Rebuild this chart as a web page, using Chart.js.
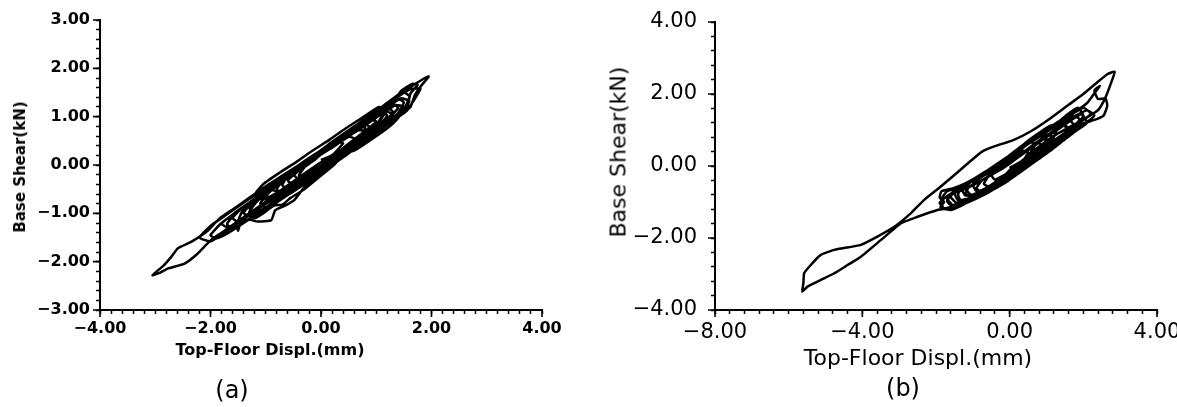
<!DOCTYPE html>
<html>
<head>
<meta charset="utf-8">
<script src="https://cdn.jsdelivr.net/npm/chart.js@4.4.1/dist/chart.umd.min.js"></script>
<style>
  body { margin: 0; background: #fff; }
  #wrap { position: relative; width: 1177px; height: 407px; overflow: hidden; background: #fff; }
  canvas { position: absolute; top: 0; }
  .lbl { position: absolute; color: #000; white-space: nowrap; font-family: "DejaVu Sans", sans-serif; transform: translate(-50%, -50%); }
  .rot { transform: translate(-50%, -50%) rotate(-90deg); }
</style>
</head>
<body>
<div id="wrap">
  <canvas id="chartA" width="575" height="345" style="left:0px"></canvas>
  <canvas id="chartB" width="587" height="345" style="left:590px"></canvas>

  <div class="lbl rot" style="left:20px; top:167px; font-size:15px; font-weight:bold;">Base Shear(kN)</div>
  <div class="lbl" style="left:270px; top:349px; font-size:16px; font-weight:bold;">Top-Floor Displ.(mm)</div>
  <div class="lbl" style="left:232px; top:390px; font-size:24px;">(a)</div>

  <div class="lbl rot" style="left:618px; top:152px; font-size:22px;">Base Shear(kN)</div>
  <div class="lbl" style="left:918px; top:357px; font-size:22px;">Top-Floor Displ.(mm)</div>
  <div class="lbl" style="left:903px; top:388px; font-size:24px;">(b)</div>
</div>

<script>
// (a) top-floor displacement (mm) and base shear (kN), traced loop by loop
const dispA = [
  0.00,
  0.20, 0.40, 0.30, 0.10, -0.10, -0.30, -0.40, -0.30, -0.10, 0.10,
  0.30, 0.50, 0.70, 0.80, 0.70, 0.50, 0.20, -0.10, -0.40, -0.60, -0.70, -0.60, -0.40, -0.20, 0.00, 0.20,
  0.40, 0.60, 0.80, 1.00, 1.10, 1.00, 0.80, 0.50, 0.20, -0.10, -0.40, -0.70, -0.90, -1.00, -0.90, -0.70, -0.50, -0.30, 0.00, 0.20,
  0.40, 0.70, 1.00, 1.20, 1.40, 1.50, 1.40, 1.20, 0.90, 0.60, 0.30, 0.00, -0.30, -0.60, -0.90, -1.20, -1.40, -1.52, -1.50, -1.45,
  -1.30, -1.15, -0.90, -0.83, -0.65, -0.48, -0.30, -0.06, 0.20, 0.50,
  0.80, 1.10, 1.30, 1.50, 1.62, 1.70, 1.80, 1.95, 1.85, 1.60, 1.40, 1.10, 0.80, 0.50, 0.20, -0.10, -0.40, -0.70, -1.00, -1.30,
  -1.60, -1.85, -2.05, -2.35, -2.59, -2.71, -2.85, -3.05, -2.90, -2.77, -2.47, -2.23, -1.99, -1.80, -1.55, -1.30, -1.00, -0.70, -0.40, -0.10,
  0.20,
  0.50, 0.80, 1.10, 1.30, 1.20, 0.90, 0.60, 0.30, 0.00, -0.30, -0.60, -0.90, -1.20, -1.50, -1.80, -2.00, -1.90, -1.70, -1.40, -1.10,
  -0.80, -0.50, -0.20, 0.10,
  0.40, 0.70, 1.00, 1.30, 1.50, 1.60, 1.50, 1.30, 1.00, 0.70, 0.40, 0.10, -0.20, -0.50, -0.80, -1.10, -1.30, -1.20, -1.00, -0.70,
  -0.40, -0.10, 0.20,
  0.50, 0.70, 0.90, 0.80, 0.50, 0.20, -0.10, -0.40, -0.70, -0.95, -1.10, -1.00, -0.80, -0.50, -0.20, 0.10,
  0.40, 0.70, 1.00, 1.20, 1.10, 0.80, 0.50, 0.20, -0.10, -0.40, -0.65, -0.80, -0.70, -0.50, -0.20, 0.10,
  0.50, 0.90, 1.20, 1.40, 1.56, 1.62, 1.75, 1.65, 1.44, 1.31, 1.10, 0.80, 0.50, 0.20, -0.10, -0.40, -0.70, -1.00, -1.30, -1.55,
  -1.70, -1.60, -1.40, -1.10, -0.80, -0.50, -0.20, 0.10,
  0.40, 0.70, 1.00, 0.90, 0.60, 0.30, 0.00, -0.30, -0.60, -0.90, -1.15, -1.30, -1.20, -1.05, -0.85, -0.70, -0.55, -0.30, 0.00, 0.25,
  0.45, 0.60, 0.50, 0.20, -0.10, -0.40, -0.60, -0.50, -0.20, 0.05,
  0.40, 0.80, 1.10, 1.40, 1.30, 1.00, 0.70, 0.40, 0.10, -0.20, -0.50, -0.40, -0.10, 0.10,
  0.40, 0.80, 1.05, 1.20, 1.05, 0.75, 0.45, 0.15, -0.15, -0.45, -0.75, -1.05, -1.20, -1.05, -0.75, -0.45, -0.15, 0.15,
  0.60, 0.90, 1.20, 1.40, 1.50, 1.35, 1.00, 0.70, 0.40, 0.10, -0.20, -0.50, -0.80, -1.10, -1.40, -1.60, -1.45, -1.20, -0.90, -0.60,
  -0.30, 0.00, 0.30,
  0.70, 1.00, 1.30, 1.55, 1.80, 1.60, 1.30, 1.00, 0.70, 0.40, 0.10, -0.20, -0.50, -0.80, -1.10, -1.40, -1.70, -2.00, -2.20, -2.00,
  -1.70, -1.40, -1.10, -0.80, -0.50, -0.20, 0.10,
  0.30, 0.60, 0.80, 0.60, 0.30, 0.00, -0.30, -0.60, -0.90, -0.70, -0.40, -0.10, 0.15,
  0.50, 0.80, 1.10, 1.30, 1.15, 0.85, 0.55, 0.25, -0.05, -0.35, -0.65, -0.95, -1.25, -1.40, -1.25, -0.95, -0.65, -0.35, -0.05, 0.25,
  0.55, 0.85, 1.15, 1.40, 1.60, 1.45, 1.15, 0.85, 0.55, 0.25, -0.05, -0.35, -0.65, -0.95, -1.25, -1.55, -1.80, -1.65, -1.35, -1.05,
  -0.75, -0.45, -0.15, 0.15,
  0.45, 0.75, 1.00, 0.85, 0.55, 0.25, -0.05, -0.35, -0.65, -1.00, -0.85, -0.55, -0.25, 0.05
];
const shearA = [
  0.10,
  0.20, 0.45, 0.47, 0.32, 0.12, -0.05, -0.22, -0.26, -0.10, 0.06,
  0.22, 0.38, 0.56, 0.78, 0.80, 0.68, 0.45, 0.20, -0.05, -0.22, -0.42, -0.50, -0.38, -0.22, -0.06, 0.10,
  0.26, 0.44, 0.62, 0.82, 1.02, 1.06, 0.95, 0.72, 0.48, 0.22, -0.02, -0.28, -0.45, -0.68, -0.78, -0.65, -0.50, -0.36, -0.12, 0.04,
  0.20, 0.44, 0.68, 0.88, 1.08, 1.30, 1.36, 1.24, 1.00, 0.76, 0.50, 0.28, 0.02, -0.22, -0.46, -0.70, -0.90, -1.22, -1.36, -1.18,
  -1.13, -1.17, -1.14, -0.94, -0.84, -0.72, -0.46, -0.24, 0.00, 0.24,
  0.50, 0.74, 0.92, 1.10, 1.20, 1.45, 1.62, 1.83, 1.78, 1.60, 1.46, 1.20, 0.95, 0.72, 0.46, 0.22, 0.00, -0.22, -0.44, -0.68,
  -0.92, -1.12, -1.36, -1.59, -1.72, -1.90, -2.08, -2.28, -2.22, -2.14, -2.04, -1.83, -1.55, -1.40, -1.20, -1.00, -0.76, -0.54, -0.32, -0.10,
  0.10,
  0.30, 0.55, 0.80, 1.10, 1.18, 0.98, 0.74, 0.50, 0.26, 0.02, -0.22, -0.46, -0.70, -0.95, -1.20, -1.45, -1.52, -1.42, -1.20, -0.96,
  -0.72, -0.50, -0.26, -0.02,
  0.22, 0.46, 0.70, 0.95, 1.15, 1.42, 1.50, 1.36, 1.12, 0.88, 0.62, 0.38, 0.12, -0.12, -0.38, -0.62, -0.88, -0.98, -0.88, -0.66,
  -0.44, -0.20, 0.04,
  0.34, 0.52, 0.76, 0.84, 0.62, 0.38, 0.14, -0.10, -0.34, -0.58, -0.80, -0.88, -0.76, -0.52, -0.28, -0.04,
  0.26, 0.50, 0.78, 1.02, 1.10, 0.90, 0.66, 0.42, 0.18, -0.06, -0.28, -0.50, -0.58, -0.46, -0.22, 0.00,
  0.28, 0.62, 0.86, 1.02, 1.20, 1.48, 1.66, 1.68, 1.52, 1.30, 1.16, 0.92, 0.68, 0.44, 0.20, -0.04, -0.28, -0.52, -0.78, -1.00,
  -1.22, -1.32, -1.20, -0.98, -0.76, -0.54, -0.30, -0.06,
  0.24, 0.50, 0.88, 0.96, 0.74, 0.50, 0.24, 0.00, -0.24, -0.50, -0.74, -0.98, -1.10, -1.00, -0.84, -0.82, -0.68, -0.50, -0.22, 0.02,
  0.30, 0.55, 0.58, 0.36, 0.14, -0.12, -0.32, -0.40, -0.20, 0.02,
  0.22, 0.56, 0.84, 1.18, 1.26, 1.04, 0.80, 0.56, 0.32, 0.08, -0.18, -0.30, -0.10, 0.08,
  0.34, 0.68, 0.90, 1.16, 1.20, 0.98, 0.76, 0.52, 0.30, 0.06, -0.16, -0.40, -0.62, -0.72, -0.54, -0.30, -0.06, 0.16,
  0.30, 0.52, 0.76, 0.98, 1.20, 1.24, 0.98, 0.74, 0.52, 0.30, 0.08, -0.16, -0.40, -0.64, -0.86, -1.10, -1.20, -1.05, -0.85, -0.62,
  -0.40, -0.15, 0.08,
  0.46, 0.68, 0.92, 1.12, 1.58, 1.56, 1.34, 1.10, 0.86, 0.62, 0.38, 0.16, -0.08, -0.30, -0.54, -0.78, -1.02, -1.26, -1.50, -1.58,
  -1.36, -1.12, -0.88, -0.66, -0.42, -0.20, 0.02,
  0.18, 0.40, 0.70, 0.72, 0.50, 0.28, 0.04, -0.20, -0.50, -0.56, -0.36, -0.14, 0.08,
  0.36, 0.58, 0.82, 1.04, 1.12, 0.90, 0.66, 0.42, 0.18, -0.06, -0.30, -0.54, -0.78, -1.00, -1.06, -0.84, -0.62, -0.40, -0.18, 0.04,
  0.36, 0.62, 0.86, 1.06, 1.32, 1.38, 1.16, 0.94, 0.70, 0.46, 0.22, -0.02, -0.26, -0.50, -0.74, -0.98, -1.22, -1.30, -1.08, -0.84,
  -0.60, -0.36, -0.12, 0.10,
  0.40, 0.66, 0.90, 0.94, 0.70, 0.46, 0.22, -0.02, -0.28, -0.62, -0.70, -0.48, -0.24, 0.02
];

// (b) top-floor displacement (mm) and base shear (kN)
const dispB = [
  0.00,
  0.30, 0.55, 0.70, 0.55, 0.30, 0.00, -0.30, -0.55, -0.70, -0.55, -0.30, 0.00, 0.25,
  0.60, 0.95, 1.20, 1.30, 1.10, 0.80, 0.45, 0.10, -0.25, -0.60, -1.00, -1.30, -1.20, -0.90, -0.55, -0.20, 0.15,
  0.60, 1.00, 1.40, 1.80, 2.00, 1.85, 1.55, 1.20, 0.80, 0.40, 0.00, -0.40, -0.80, -1.20, -1.55, -1.85, -1.90, -1.78, -1.88, -1.60,
  -1.35, -1.00, -0.60, -0.20, 0.20,
  0.60, 1.00, 1.35, 1.60, 1.40, 1.00, 0.60, 0.20, -0.20, -0.60, -1.00, -1.40, -1.60, -1.45, -1.15, -0.80, -0.40, 0.00,
  0.50, 0.90, 1.30, 1.70, 2.10, 2.40, 2.60, 2.75, 2.85, 2.65, 2.35, 2.00, 1.60, 1.10, 0.60, 0.10, -0.40, -0.75, -1.14, -1.50,
  -1.87, -2.32, -2.68, -3.13, -3.59, -4.04, -4.76, -5.13, -5.40, -5.58, -5.60, -5.63, -5.49, -5.10, -4.76, -4.40, -4.04, -3.50, -2.95, -2.50,
  -1.96, -1.60, -1.25, -0.90, -0.50, -0.10, 0.30,
  0.70, 1.10, 1.50, 1.90, 2.30, 2.55, 2.65, 2.60, 2.40, 2.30, 2.45, 2.30, 2.10, 1.80, 1.40, 1.00, 0.60, 0.20, -0.20, -0.60,
  -1.00, -1.20, -1.05, -0.70, -0.30, 0.10,
  0.50, 0.90, 1.30, 1.70, 1.90, 1.70, 1.30, 0.90, 0.50, 0.10, -0.30, -0.70, -1.10, -1.50, -1.70, -1.55, -1.20, -0.85, -0.45, -0.05, 0.30,
  0.60, 0.90, 1.00, 0.80, 0.45, 0.10, -0.30, -0.70, -1.00, -0.90, -0.60, -0.25, 0.10,
  0.50, 1.00, 1.50, 1.90, 2.20, 2.00, 1.60, 1.20, 0.80, 0.40, 0.00, -0.40, -0.80, -1.20, -1.50, -1.40, -1.05, -0.65, -0.25, 0.10,
  0.35, 0.50, 0.35, 0.05, -0.25, -0.50, -0.40, -0.10, 0.10,
  0.30, 0.60, 0.90, 1.20, 1.50, 1.80, 1.60, 1.30, 1.00, 0.70, 0.40, 0.10, -0.20, -0.50, -0.80, -1.10, -1.40, -1.70, -1.85, -1.80,
  -1.50, -1.20, -0.90, -0.60, -0.30, 0.00,
  0.20, 0.60, 1.00, 1.40, 1.80, 2.10, 2.30, 2.10, 1.80, 1.40, 1.00, 0.60, 0.20, -0.20, -0.60, -1.00, -1.30, -1.40, -1.30, -1.00,
  -0.60, -0.20,
  0.10, 0.40, 0.70, 1.00, 1.20, 1.00, 0.70, 0.40, 0.10, -0.20, -0.50, -0.80, -1.10, -1.20, -1.10, -0.80, -0.50, -0.20, 0.10,
  0.40, 0.70, 1.00, 1.30, 1.60, 1.45, 1.15, 0.85, 0.55, 0.25, -0.05, -0.35, -0.65, -0.95, -1.25, -1.55, -1.70, -1.55, -1.25, -0.95,
  -0.65, -0.35, -0.05, 0.25,
  0.55, 0.85, 1.15, 1.45, 1.75, 2.10, 1.95, 1.65, 1.35, 1.05, 0.75, 0.45, 0.15, -0.15, -0.45, -0.75, -1.05, -1.35, -1.65, -1.90,
  -1.75, -1.45, -1.15, -0.85, -0.55, -0.25, 0.05, 0.35,
  0.60, 0.90, 0.75, 0.45, 0.15, -0.15, -0.45, -0.75, -0.90, -0.75, -0.45, -0.15, 0.15
];
const shearB = [
  -0.05,
  0.12, 0.35, 0.62, 0.66, 0.45, 0.18, -0.08, -0.25, -0.50, -0.58, -0.45, -0.25, 0.02,
  0.28, 0.58, 0.82, 1.10, 1.12, 0.92, 0.66, 0.32, 0.02, -0.22, -0.40, -0.62, -0.82, -0.78, -0.62, -0.40, -0.10,
  0.20, 0.50, 0.82, 1.12, 1.40, 1.62, 1.42, 1.12, 0.85, 0.62, 0.30, 0.00, -0.25, -0.48, -0.62, -0.70, -0.88, -1.00, -1.14, -1.22,
  -1.12, -0.92, -0.72, -0.46, -0.14,
  0.22, 0.50, 0.78, 1.05, 1.18, 0.95, 0.70, 0.40, 0.08, -0.18, -0.40, -0.62, -0.85, -1.02, -0.92, -0.76, -0.54, -0.28,
  0.30, 0.62, 0.90, 1.12, 1.35, 1.55, 1.90, 2.30, 2.62, 2.55, 2.30, 2.00, 1.70, 1.32, 0.98, 0.72, 0.55, 0.40, 0.07, -0.25,
  -0.57, -0.94, -1.31, -1.69, -1.96, -2.19, -2.33, -2.47, -2.75, -2.98, -3.25, -3.49, -3.35, -3.15, -2.98, -2.75, -2.52, -2.06, -1.59, -1.41,
  -1.22, -1.16, -1.04, -0.86, -0.62, -0.36, -0.05,
  0.32, 0.62, 0.90, 1.15, 1.28, 1.40, 1.68, 1.88, 1.86, 2.10, 2.22, 2.02, 1.75, 1.52, 1.28, 1.02, 0.75, 0.45, 0.15, -0.12,
  -0.38, -0.62, -0.80, -0.68, -0.46, -0.18,
  0.18, 0.48, 0.78, 1.05, 1.30, 1.40, 1.18, 0.92, 0.68, 0.38, 0.06, -0.20, -0.44, -0.68, -0.90, -1.08, -0.98, -0.80, -0.58, -0.32, -0.02,
  0.30, 0.55, 0.80, 0.82, 0.58, 0.30, 0.00, -0.26, -0.50, -0.70, -0.60, -0.40, -0.12,
  0.20, 0.56, 0.92, 1.20, 1.45, 1.62, 1.38, 1.10, 0.86, 0.58, 0.28, -0.02, -0.28, -0.50, -0.72, -0.95, -0.88, -0.68, -0.44, -0.15,
  0.12, 0.38, 0.42, 0.18, -0.05, -0.24, -0.38, -0.22, -0.02,
  -0.14, 0.10, 0.34, 0.56, 0.78, 1.04, 1.30, 1.12, 0.94, 0.74, 0.54, 0.32, 0.10, -0.12, -0.30, -0.46, -0.60, -0.70, -0.92, -1.18,
  -1.10, -0.98, -0.84, -0.68, -0.52, -0.36,
  -0.10, 0.16, 0.44, 0.74, 1.02, 1.22, 1.40, 1.55, 1.40, 1.18, 0.96, 0.72, 0.44, 0.16, -0.12, -0.38, -0.56, -0.80, -1.00, -0.86,
  -0.62, -0.40,
  -0.10, 0.12, 0.34, 0.56, 0.80, 0.86, 0.62, 0.40, 0.16, -0.06, -0.24, -0.42, -0.58, -0.76, -0.84, -0.70, -0.52, -0.32, -0.06,
  0.04, 0.26, 0.48, 0.70, 0.96, 1.14, 0.94, 0.74, 0.52, 0.28, 0.04, -0.16, -0.34, -0.50, -0.64, -0.76, -0.98, -1.12, -1.02, -0.90,
  -0.76, -0.60, -0.42, -0.20,
  0.02, 0.24, 0.46, 0.70, 0.94, 1.20, 1.44, 1.26, 1.04, 0.84, 0.62, 0.40, 0.18, -0.04, -0.22, -0.40, -0.56, -0.70, -0.80, -1.02,
  -1.20, -1.14, -1.02, -0.88, -0.72, -0.52, -0.30, -0.08,
  0.14, 0.52, 0.66, 0.44, 0.20, -0.04, -0.22, -0.40, -0.62, -0.72, -0.56, -0.36, -0.12
];

// labelled (major) ticks
const xMajorA = [-4, -2, 0, 2, 4];
const yMajorA = [-3, -2, -1, 0, 1, 2, 3];
const xMajorB = [-8, -4, 0, 4];
const yMajorB = [-4, -2, 0, 2, 4];

function fmt(v) {
  if (Math.abs(v) < 1e-9) v = 0;
  return v.toFixed(2).replace('-', '\u2212');
}
function isMajor(list, v) {
  return list.some(m => Math.abs(m - v) < 1e-6);
}

// longer marks at the labelled ticks
const majorTicks = {
  id: 'majorTicks',
  afterDraw(chart, args, opts) {
    const ctx = chart.ctx, xs = chart.scales.x, ys = chart.scales.y;
    ctx.save();
    ctx.strokeStyle = '#000';
    ctx.lineWidth = 1.6;
    ctx.beginPath();
    opts.x.forEach(v => {
      const p = xs.getPixelForValue(v);
      ctx.moveTo(p, xs.top);
      ctx.lineTo(p, xs.top + opts.len);
    });
    opts.y.forEach(v => {
      const p = ys.getPixelForValue(v);
      ctx.moveTo(ys.right, p);
      ctx.lineTo(ys.right - opts.len, p);
    });
    ctx.stroke();
    ctx.restore();
  }
};

function makeChart(id, xs, ys, o) {
  const pts = xs.map((x, i) => ({ x: x, y: ys[i] }));
  const font = { family: 'DejaVu Sans', size: o.fontSize, weight: o.fontWeight };
  return new Chart(document.getElementById(id), {
    type: 'scatter',
    data: {
      datasets: [{
        data: pts,
        showLine: true,
        borderColor: '#000',
        borderWidth: 2.5,
        pointRadius: 0,
        tension: 0.15,
      }],
    },
    options: {
      responsive: false,
      animation: false,
      layout: { padding: { left: 0, top: o.top, right: o.right, bottom: 0 } },
      plugins: {
        legend: { display: false },
        tooltip: { enabled: false },
        majorTicks: { x: o.xMajor, y: o.yMajor, len: 7 },
      },
      scales: {
        x: {
          type: 'linear',
          min: o.xMin, max: o.xMax,
          border: { display: true, color: '#000', width: 2 },
          grid: { drawOnChartArea: false, drawTicks: true, tickLength: 4, tickColor: '#000', tickWidth: 1.5 },
          ticks: {
            stepSize: o.xStep, autoSkip: false, maxRotation: 0, padding: o.xPad,
            color: '#000', font: font,
            callback: v => isMajor(o.xMajor, v) ? fmt(v) : '',
          },
          afterFit: s => { s.height = o.xHeight; s.paddingLeft = 0; s.paddingRight = 0; },
        },
        y: {
          type: 'linear',
          min: o.yMin, max: o.yMax,
          border: { display: true, color: '#000', width: 2 },
          grid: { drawOnChartArea: false, drawTicks: true, tickLength: 4, tickColor: '#000', tickWidth: 1.5 },
          ticks: {
            stepSize: o.yStep, autoSkip: false, padding: o.yPad,
            color: '#000', font: font,
            callback: v => isMajor(o.yMajor, v) ? fmt(v) : '',
          },
          afterFit: s => { s.width = o.yWidth; s.paddingTop = 0; s.paddingBottom = 0; },
        },
      },
    },
    plugins: [majorTicks],
  });
}

makeChart('chartA', dispA, shearA, {
  xMin: -4, xMax: 4, xStep: 0.2, yMin: -3, yMax: 3, yStep: 0.2,
  xMajor: xMajorA, yMajor: yMajorA,
  top: 20, right: 33, yWidth: 100, xHeight: 35,
  fontSize: 16, fontWeight: 'bold', xPad: 5, yPad: 6,
});

makeChart('chartB', dispB, shearB, {
  xMin: -8, xMax: 4, xStep: 0.4, yMin: -4, yMax: 4, yStep: 0.4,
  xMajor: xMajorB, yMajor: yMajorB,
  top: 22, right: 20, yWidth: 125, xHeight: 35,
  fontSize: 21, fontWeight: 'normal', xPad: 6, yPad: 14,
});
</script>
</body>
</html>
